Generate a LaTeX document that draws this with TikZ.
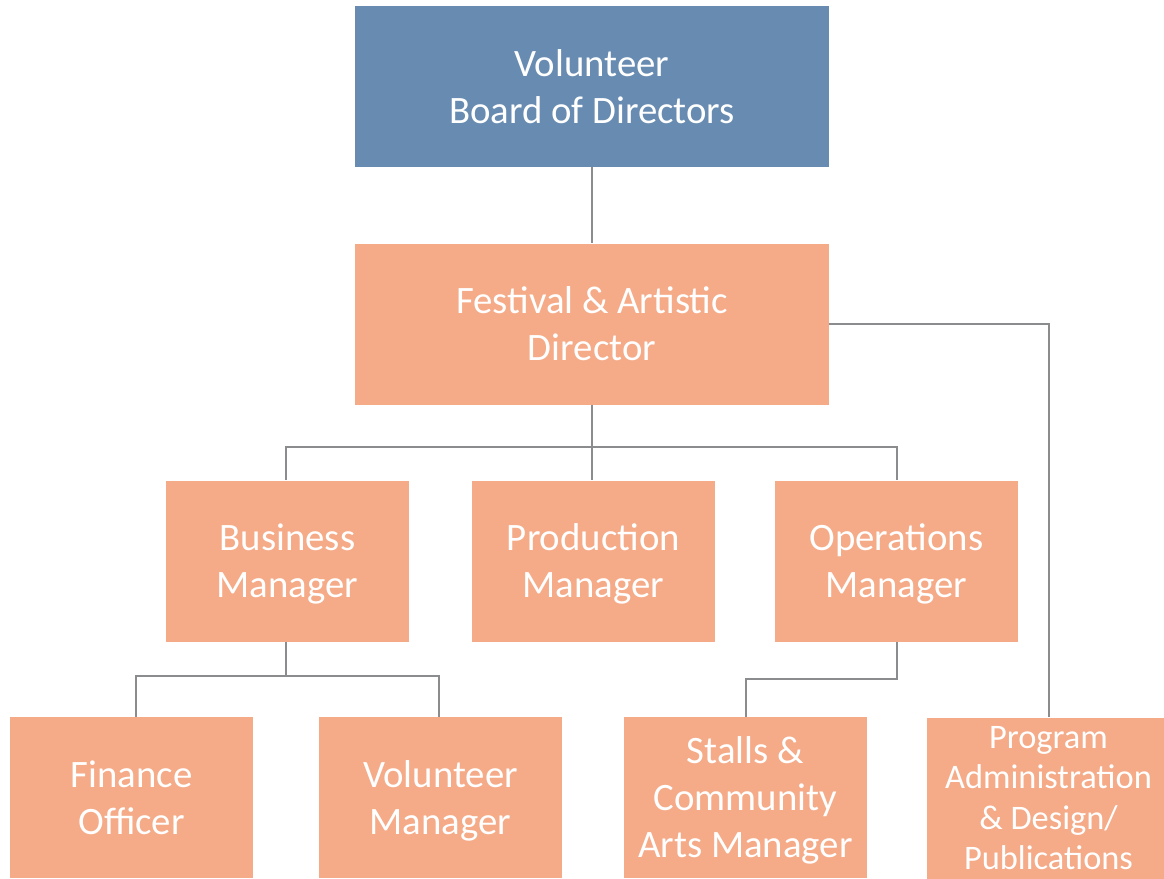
\documentclass[tikz,border=0pt]{standalone}
\usepackage{fontspec}
\setmainfont{Carlito}
\usepackage{tikz}
\usetikzlibrary{calc,positioning}
\definecolor{boardblue}{HTML}{678BB1}
\definecolor{staffsalmon}{HTML}{F5AA88}
\definecolor{linkgray}{HTML}{8A8C8E}
\tikzset{
  role/.style={rectangle,fill=staffsalmon,text=white,align=center,inner sep=0pt,
    minimum width=121.5pt,minimum height=80.5pt,text depth=0pt,
    font=\fontsize{19.4}{23.5}\selectfont},
  widerole/.style={role,minimum width=237pt},
  board/.style={widerole,fill=boardblue},
  smallrole/.style={role,font=\fontsize{17.2}{20.2}\selectfont},
  link/.style={linkgray,line width=1pt}
}

\begin{document}
\begin{tikzpicture}[x=0.5pt,y=-0.5pt]
\useasboundingbox (0,0) rectangle (1164,879);
% top two levels
\node[board] (board) at (592,86.5) {Volunteer\\Board of Directors};
\node[widerole] (festival) at (592,324) {Festival \& Artistic\\Director};
% managers
\node[role] (business) at (287.5,561) {Business\\Manager};
\node[role] (production) at (593.5,561) {Production\\Manager};
\node[role] (operations) at (896.5,561) {Operations\\Manager};
% staff under the managers
\node[role] (finance) at (131.5,797.5) {Finance\\Officer};
\node[role] (volmgr) at (440.5,797.5) {Volunteer\\Manager};
\node[role] (stalls) at (745.5,797.5) {Stalls \&\\Community\\Arts Manager};
\node[smallrole] (program) at (1048.5,798) {Program\\Administration\\\& Design/\\Publications};
% joints of the branches
\coordinate (mgrbar) at (592,447);
\coordinate (busbar) at (286,676);
% links
\draw[link] (board.south) -- (festival.north);
\draw[link] (festival.south) -- (festival.south |- production.north);
\draw[link] (business.north -| busbar) |- (mgrbar) -| (operations.north);
\draw[link] (festival.east) -| (program.north);
\draw[link] (business.south -| busbar) -- (busbar);
\draw[link] (finance.north) ++(4.5,0) |- (busbar) -| ([xshift=-0.75pt]volmgr.north);
\draw[link] (operations.south) -- ++(0,37) -| (stalls.north);
\end{tikzpicture}
\end{document}
